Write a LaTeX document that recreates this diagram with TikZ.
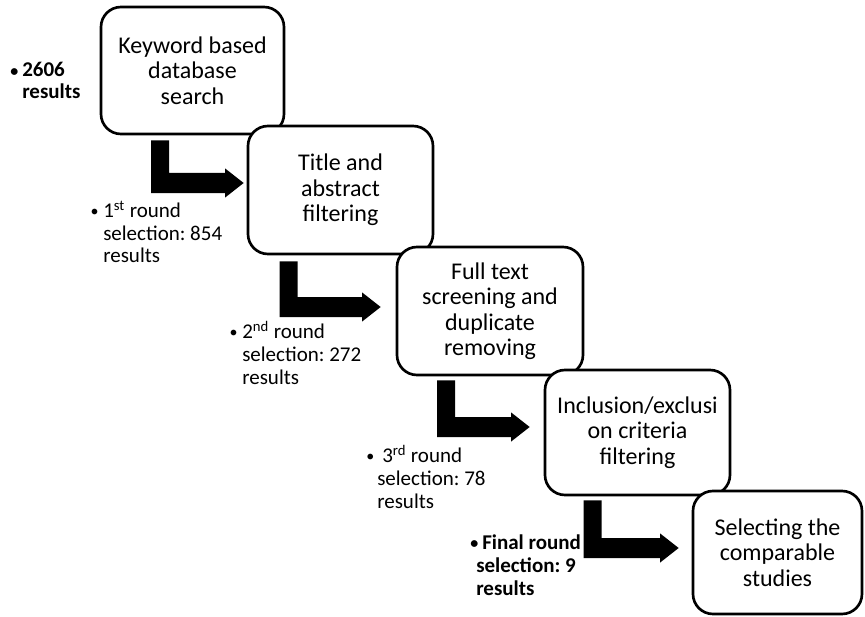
\documentclass[tikz,border=0pt]{standalone}
\usepackage{fontspec}
\setmainfont{Carlito}
\usetikzlibrary{calc}
\frenchspacing

% 1 unit = 1 px = 0.75pt, y grows downwards
\tikzset{
  stage/.style={draw, line width=2pt, rounded corners=15pt, fill=white,
    align=center, inner sep=0pt, font=\fontsize{18}{19.1}\selectfont},
  sidenote/.style={anchor=base west, inner sep=0pt,
    font=\fontsize{15.75}{17.25}\selectfont},
  blockarrow/.style={fill=black}
}

% small list bullet
\newcommand\dotb{\raisebox{0.5pt}{\fontsize{12}{12}\selectfont\textbullet}}
% bullet line: shift of the first line, gap between bullet and text
\newcommand\bulletline[3]{\hbox{\hspace*{#1}\llap{\dotb\hspace{#2}}#3}}

% bent block arrow: down from #1, then right to the tip #2
\newcommand\bentarrow[2]{%
  \fill[blockarrow] let \p1=(#1), \p2=(#2) in
    (\x1-6.75pt,\y1) -- (\x1+6.75pt,\y1) -- (\x1+6.75pt,\y2+7.5pt)
    -- (\x2-13.9pt,\y2+7.5pt) -- (\x2-13.9pt,\y2+10.9pt) -- (\x2,\y2)
    -- (\x2-13.9pt,\y2-10.9pt) -- (\x2-13.9pt,\y2-7.5pt)
    -- (\x1-6.75pt,\y2-7.5pt) -- cycle;}

\begin{document}
\begin{tikzpicture}[x=0.75pt,y=-0.75pt]
\useasboundingbox (0,0) rectangle (865,617);

% process stages
\node[stage, minimum width={183*0.75pt}, minimum height={127*0.75pt}] (b1) at (192.5,70.5)
  {Keyword based\\database\\search};
\node[stage, minimum width={185*0.75pt}, minimum height={128*0.75pt}] (b2) at (340.5,190)
  {Title and\\abstract\\filtering};
\node[stage, minimum width={186*0.75pt}, minimum height={128*0.75pt}] (b3) at (490,311)
  {Full text\\screening and\\duplicate\\removing};
\node[stage, minimum width={185*0.75pt}, minimum height={125*0.75pt}] (b4) at (637.5,432.5)
  {Inclusion/exclusi\\on criteria\\filtering};
\node[stage, minimum width={169*0.75pt}, minimum height={123*0.75pt}] (b5) at (777.5,552.5)
  {Selecting the\\comparable\\studies};

% arrow end points
\coordinate (a1s) at ($(b1.south west)+(60.5,5)$);
\coordinate (a1e) at ($(b2.west)+(-3,-7)$);
\coordinate (a2s) at ($(b2.south west)+(42,6)$);
\coordinate (a2e) at ($(b3.west)+(-15,-4)$);
\coordinate (a3s) at ($(b3.south west)+(50.5,4)$);
\coordinate (a3e) at ($(b4.west)+(-14,-5.5)$);
\coordinate (a4s) at ($(b4.south west)+(49,4)$);
\coordinate (a4e) at ($(b5.west)+(-13,-4.5)$);

\bentarrow{a1s}{a1e}
\bentarrow{a2s}{a2e}
\bentarrow{a3s}{a3e}
\bentarrow{a4s}{a4e}

% result counts
\node[sidenote, font=\fontsize{15.75}{16.5}\selectfont\bfseries] (n0) at (22,77)
  {\vtop{\bulletline{0pt}{3pt}{2606}\hbox{results}}};
\node[sidenote] (n1) at (103,217)
  {\vtop{\bulletline{0pt}{3.5pt}{1\textsuperscript{st} round}\hbox{selection: 854}\hbox{results}}};
\node[sidenote] (n2) at (242,338)
  {\vtop{\bulletline{0pt}{3.5pt}{2\textsuperscript{nd} round}\hbox{selection: 272}\hbox{results}}};
\node[sidenote] (n3) at (377,462)
  {\vtop{\bulletline{3.75pt}{6pt}{3\textsuperscript{rd} round}\hbox{selection: 78}\hbox{results}}};
\node[sidenote, font=\fontsize{15.75}{17.25}\selectfont\bfseries] (n4) at (476,549)
  {\vtop{\bulletline{4.5pt}{3pt}{Final round}\hbox{selection: 9}\hbox{results}}};
\end{tikzpicture}
\end{document}
